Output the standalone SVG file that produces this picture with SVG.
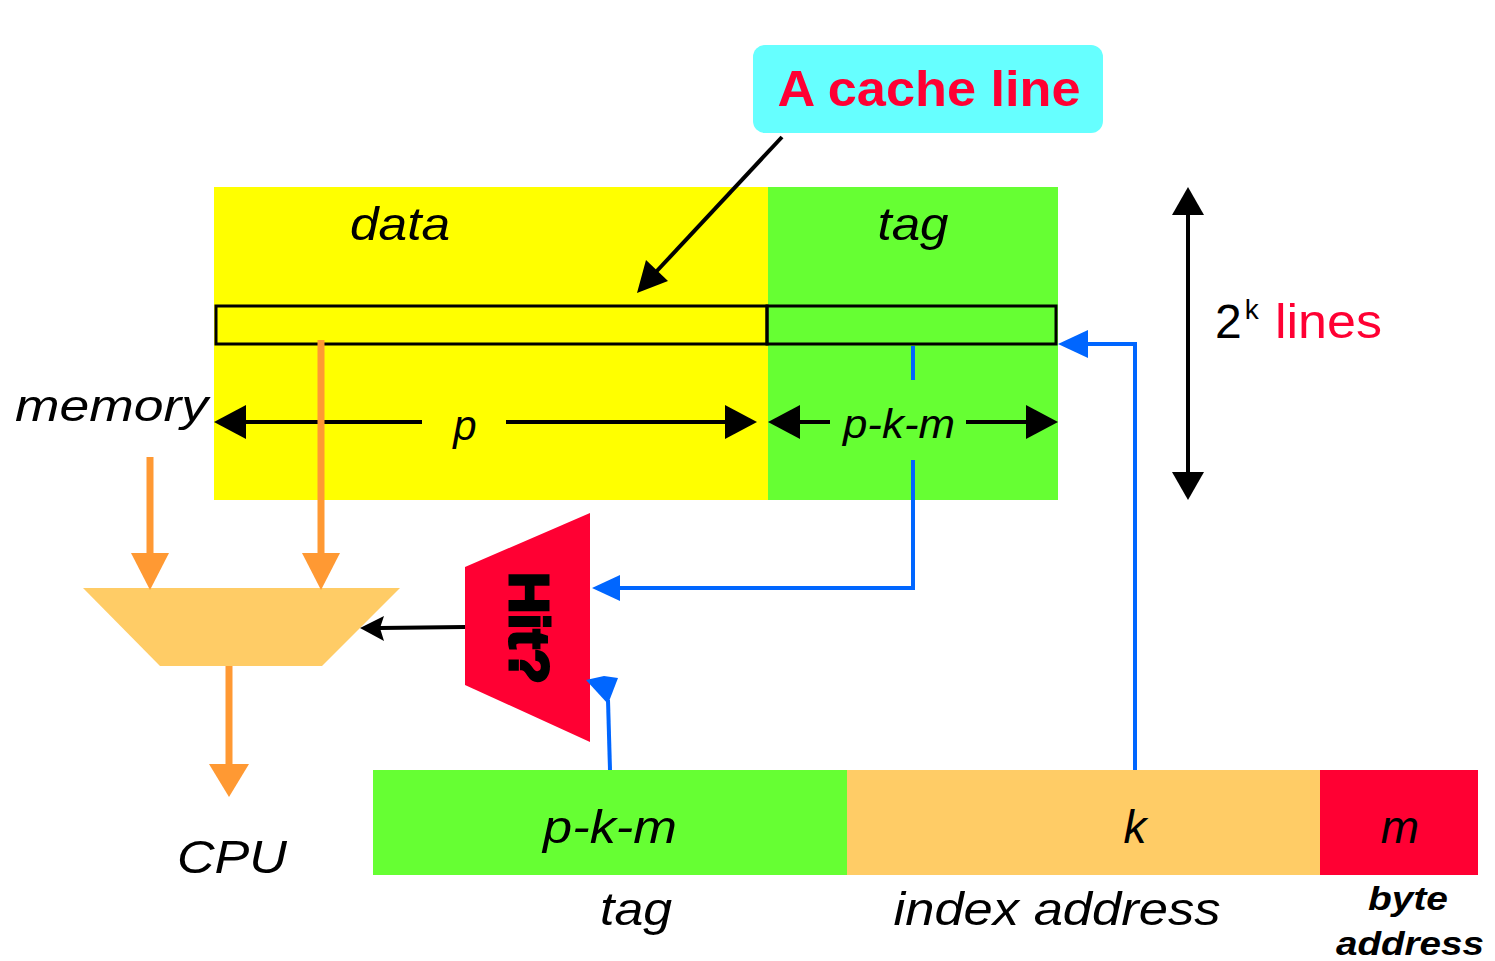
<svg xmlns="http://www.w3.org/2000/svg" width="1495" height="961" viewBox="0 0 1495 961">
<style>
.it{font-family:"Liberation Sans",Arial,sans-serif;font-style:italic;fill:#000;}
.bk{stroke:#000;stroke-width:4;fill:none;}
.bl{stroke:#0066FF;stroke-width:4;fill:none;}
.or{stroke:#FF9933;stroke-width:7;fill:none;}
</style>
<rect width="1495" height="961" fill="#fff"/>
<g id="cache-data"><rect x="214" y="187" width="554" height="313" fill="#FFFF00"/>
<text class="it" x="400" y="240" font-size="46" text-anchor="middle" textLength="100" lengthAdjust="spacingAndGlyphs">data</text></g>
<g id="cache-tag"><rect x="768" y="187" width="290" height="313" fill="#66FF33"/>
<text class="it" x="913" y="240" font-size="46" text-anchor="middle" textLength="71" lengthAdjust="spacingAndGlyphs">tag</text></g>
<g id="cache-line"><rect x="216" y="306" width="551" height="38" fill="none" stroke="#000" stroke-width="3"/>
<rect x="767" y="306" width="289" height="38" fill="none" stroke="#000" stroke-width="3"/></g>
<g id="callout"><rect x="753" y="45" width="350" height="88" rx="12" fill="#66FFFF"/>
<text x="929" y="106" font-family="Liberation Sans,Arial,sans-serif" font-weight="bold" font-size="50" fill="#FF0033" text-anchor="middle" textLength="303" lengthAdjust="spacingAndGlyphs">A cache line</text></g>
<g id="memory-label"><text class="it" x="15" y="421" font-size="44" textLength="193" lengthAdjust="spacingAndGlyphs">memory</text></g>
<g id="lines-label"><text x="1215" y="338" font-family="Liberation Sans,Arial,sans-serif" font-size="48" fill="#000">2<tspan font-size="28" dy="-19" dx="3">k</tspan></text>
<text x="1275" y="338" font-family="Liberation Sans,Arial,sans-serif" font-size="48" fill="#FF0033" textLength="107" lengthAdjust="spacingAndGlyphs">lines</text></g>
<g id="mux"><polygon points="83,588 400,588 322,666 160,666" fill="#FFCC66"/></g>
<g id="hit"><polygon points="465,567 590,513 590,742 465,685" fill="#FF0033"/>
<text transform="translate(510,628) rotate(90)" x="0" y="0" font-family="Liberation Sans,Arial,sans-serif" font-weight="bold" font-size="56" fill="#000" stroke="#000" stroke-width="3" text-anchor="middle" textLength="112" lengthAdjust="spacingAndGlyphs">Hit?</text></g>
<g id="cpu-label"><text class="it" x="232" y="873" font-size="46" text-anchor="middle" textLength="110" lengthAdjust="spacingAndGlyphs">CPU</text></g>
<g id="address">
<rect x="373" y="770" width="474" height="105" fill="#66FF33"/>
<rect x="847" y="770" width="473" height="105" fill="#FFCC66"/>
<rect x="1320" y="770" width="158" height="105" fill="#FF0033"/>
<text class="it" x="610" y="843" font-size="46" text-anchor="middle" textLength="134" lengthAdjust="spacingAndGlyphs">p-k-m</text>
<text class="it" x="1135" y="843" font-size="46" text-anchor="middle">k</text>
<text class="it" x="1400" y="843" font-size="46" text-anchor="middle">m</text>
<text class="it" x="636" y="925" font-size="46" text-anchor="middle" textLength="72" lengthAdjust="spacingAndGlyphs">tag</text>
<text class="it" x="1057" y="925" font-size="46" text-anchor="middle" textLength="327" lengthAdjust="spacingAndGlyphs">index address</text>
<text class="it" x="1408" y="910" font-size="34" font-weight="bold" text-anchor="middle" textLength="80" lengthAdjust="spacingAndGlyphs">byte</text>
<text class="it" x="1410" y="955" font-size="34" font-weight="bold" text-anchor="middle" textLength="148" lengthAdjust="spacingAndGlyphs">address</text>
</g>
<g id="connectors">
<line class="bk" x1="782" y1="137" x2="655" y2="273"/>
<polygon points="637,293 646,260 668,281" fill="#000"/>
<line class="bk" x1="244" y1="422" x2="422" y2="422" stroke-width="5"/>
<line class="bk" x1="506" y1="422" x2="725" y2="422" stroke-width="5"/>
<polygon points="214,422 246,405 246,439" fill="#000"/>
<polygon points="757,422 725,405 725,439" fill="#000"/>
<text class="it" x="465" y="440" font-size="42" text-anchor="middle">p</text>
<line class="bk" x1="795" y1="422" x2="830" y2="422" stroke-width="5"/>
<line class="bk" x1="966" y1="422" x2="1028" y2="422" stroke-width="5"/>
<polygon points="768,422 800,405 800,439" fill="#000"/>
<polygon points="1058,422 1026,405 1026,439" fill="#000"/>
<text class="it" x="899" y="438" font-size="40" text-anchor="middle" textLength="112" lengthAdjust="spacingAndGlyphs">p-k-m</text>
<line class="bk" x1="1188" y1="215" x2="1188" y2="472" stroke-width="5"/>
<polygon points="1188,187 1172,215 1204,215" fill="#000"/>
<polygon points="1188,500 1172,472 1204,472" fill="#000"/>
<line class="or" x1="321" y1="340" x2="321" y2="556"/>
<polygon points="321,590 302,553 340,553" fill="#FF9933"/>
<line class="or" x1="150" y1="457" x2="150" y2="556"/>
<polygon points="150,590 131,553 169,553" fill="#FF9933"/>
<line class="or" x1="229" y1="666" x2="229" y2="768"/>
<polygon points="229,797 209,764 249,764" fill="#FF9933"/>
<line class="bk" x1="465" y1="627" x2="380" y2="628" stroke-width="3"/>
<polygon points="360,628 384,616 380,628 384,641" fill="#000"/>
<line class="bl" x1="913" y1="346" x2="913" y2="380"/>
<polyline class="bl" points="913,460 913,588 618,588"/>
<polygon points="592,588 620,575 620,601" fill="#0066FF"/>
<polyline class="bl" points="610,770 608,700"/>
<polygon points="604,676 586,680 608,704 618,678" fill="#0066FF"/>
<polyline class="bl" points="1135,770 1135,344 1085,344"/>
<polygon points="1058,344 1088,330 1088,358" fill="#0066FF"/>
</g>
</svg>
